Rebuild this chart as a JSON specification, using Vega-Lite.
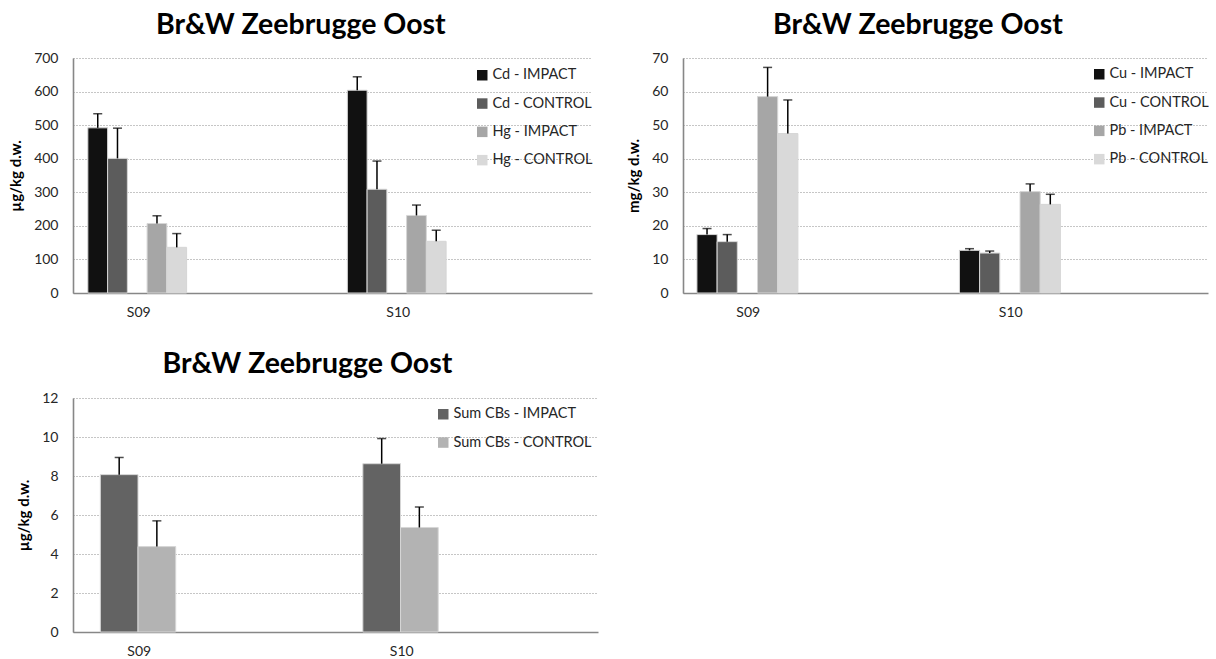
{
  "$schema": "https://vega.github.io/schema/vega-lite/v6.json",
  "background": "white",
  "padding": {"left": 8, "top": 10, "right": 0, "bottom": 0},
  "config": {
    "font": "Lato",
    "view": {"stroke": null},
    "title": {"font": "Lato", "fontSize": 28.5, "fontWeight": "bold", "color": "#000000", "frame": "bounds", "anchor": "middle", "offset": 12},
    "axis": {"labelFont": "Lato", "labelFontSize": 14, "labelColor": "#262626", "ticks": false, "domainColor": "#878787", "domainWidth": 1.6, "titleFont": "Lato", "titleFontSize": 15, "titleFontWeight": "bold", "titleColor": "#000000"},
    "axisY": {"grid": true, "gridColor": "#8c8c8c", "gridDash": [1, 2], "gridWidth": 1, "labelPadding": 15, "titlePadding": 10},
    "axisX": {"grid": false, "labelAngle": 0, "labelPadding": 12, "title": null},
    "legend": {"orient": "none", "title": null, "symbolType": "square", "symbolSize": 110, "symbolStrokeWidth": 0, "symbolOpacity": 1, "labelFont": "Lato", "labelFontSize": 14.5, "labelColor": "#262626", "labelOffset": 3, "rowPadding": 13.3, "padding": 0}
  },
  "resolve": {"scale": {"color": "independent", "xOffset": "independent", "y": "independent", "x": "independent"}, "legend": {"color": "independent"}},
  "spacing": 30,
  "vconcat": [
    {
      "spacing": 33,
      "resolve": {"scale": {"color": "independent", "xOffset": "independent", "y": "independent", "x": "independent"}, "legend": {"color": "independent"}},
      "hconcat": [
        {
          "title": "Br&W Zeebrugge Oost",
          "width": 519,
          "height": 235,
          "data": {"values": [
            {"site": "S09", "series": "Cd - IMPACT", "value": 492, "upper": 534},
            {"site": "S09", "series": "Cd - CONTROL", "value": 401, "upper": 491},
            {"site": "S09", "series": "Hg - IMPACT", "value": 207, "upper": 230},
            {"site": "S09", "series": "Hg - CONTROL", "value": 136, "upper": 177},
            {"site": "S10", "series": "Cd - IMPACT", "value": 604, "upper": 644},
            {"site": "S10", "series": "Cd - CONTROL", "value": 309, "upper": 393},
            {"site": "S10", "series": "Hg - IMPACT", "value": 231, "upper": 262},
            {"site": "S10", "series": "Hg - CONTROL", "value": 154, "upper": 187}
          ]},
          "encoding": {
            "x": {"field": "site", "type": "nominal", "scale": {"paddingInner": 0, "paddingOuter": 0}, "axis": {"labelOffset": -64}},
            "xOffset": {"field": "series", "type": "nominal", "scale": {"domain": ["Cd - IMPACT", "Cd - CONTROL", "_a", "Hg - IMPACT", "Hg - CONTROL", "_b", "_c", "_d", "_e", "_f", "_g", "_h"], "paddingInner": 0, "paddingOuter": 0.57, "align": 0.66}}
          },
          "layer": [
            {
              "mark": {"type": "bar", "stroke": "#d6d6d6", "strokeWidth": 1},
              "encoding": {
                "y": {"field": "value", "type": "quantitative", "scale": {"domain": [0, 700]}, "axis": {"title": "µg/kg d.w.", "values": [0, 100, 200, 300, 400, 500, 600, 700]}},
                "color": {"field": "series", "type": "nominal", "scale": {"domain": ["Cd - IMPACT", "Cd - CONTROL", "Hg - IMPACT", "Hg - CONTROL"], "range": ["#111111", "#5c5c5c", "#a6a6a6", "#d9d9d9"]}, "legend": {"legendX": 402, "legendY": 10}}
              }
            },
            {
              "mark": {"type": "rule", "color": "#000000", "strokeWidth": 1.5},
              "encoding": {"y": {"field": "value", "type": "quantitative", "axis": {"title": "µg/kg d.w.", "values": [0, 100, 200, 300, 400, 500, 600, 700]}}, "y2": {"field": "upper"}}
            },
            {
              "mark": {"type": "tick", "color": "#000000", "thickness": 1.5, "size": 9},
              "encoding": {"y": {"field": "upper", "type": "quantitative", "axis": {"title": "µg/kg d.w.", "values": [0, 100, 200, 300, 400, 500, 600, 700]}}}
            }
          ]
        },
        {
          "title": "Br&W Zeebrugge Oost",
          "width": 525,
          "height": 235,
          "data": {"values": [
            {"site": "S09", "series": "Cu - IMPACT", "value": 17.4, "upper": 19.2},
            {"site": "S09", "series": "Cu - CONTROL", "value": 15.3, "upper": 17.4},
            {"site": "S09", "series": "Pb - IMPACT", "value": 58.5, "upper": 67.2},
            {"site": "S09", "series": "Pb - CONTROL", "value": 47.5, "upper": 57.5},
            {"site": "S10", "series": "Cu - IMPACT", "value": 12.7, "upper": 13.2},
            {"site": "S10", "series": "Cu - CONTROL", "value": 11.9, "upper": 12.5},
            {"site": "S10", "series": "Pb - IMPACT", "value": 30.2, "upper": 32.5},
            {"site": "S10", "series": "Pb - CONTROL", "value": 26.4, "upper": 29.4}
          ]},
          "encoding": {
            "x": {"field": "site", "type": "nominal", "scale": {"paddingInner": 0, "paddingOuter": 0}, "axis": {"labelOffset": -66}},
            "xOffset": {"field": "series", "type": "nominal", "scale": {"domain": ["Cu - IMPACT", "Cu - CONTROL", "_a", "Pb - IMPACT", "Pb - CONTROL", "_b", "_c", "_d", "_e", "_f", "_g", "_h"], "paddingInner": 0, "paddingOuter": 0.5, "align": 0.69}}
          },
          "layer": [
            {
              "mark": {"type": "bar", "stroke": "#d6d6d6", "strokeWidth": 1},
              "encoding": {
                "y": {"field": "value", "type": "quantitative", "scale": {"domain": [0, 70]}, "axis": {"title": "mg/kg d.w.", "values": [0, 10, 20, 30, 40, 50, 60, 70]}},
                "color": {"field": "series", "type": "nominal", "scale": {"domain": ["Cu - IMPACT", "Cu - CONTROL", "Pb - IMPACT", "Pb - CONTROL"], "range": ["#111111", "#5c5c5c", "#a6a6a6", "#d9d9d9"]}, "legend": {"legendX": 409, "legendY": 9}}
              }
            },
            {
              "mark": {"type": "rule", "color": "#000000", "strokeWidth": 1.5},
              "encoding": {"y": {"field": "value", "type": "quantitative", "axis": {"title": "mg/kg d.w.", "values": [0, 10, 20, 30, 40, 50, 60, 70]}}, "y2": {"field": "upper"}}
            },
            {
              "mark": {"type": "tick", "color": "#000000", "thickness": 1.5, "size": 9},
              "encoding": {"y": {"field": "upper", "type": "quantitative", "axis": {"title": "mg/kg d.w.", "values": [0, 10, 20, 30, 40, 50, 60, 70]}}}
            }
          ]
        }
      ]
    },
    {
      "title": {"text": "Br&W Zeebrugge Oost", "offset": 13},
      "width": 525,
      "height": 234,
      "data": {"values": [
        {"site": "S09", "series": "Sum CBs - IMPACT", "value": 8.07, "upper": 8.95},
        {"site": "S09", "series": "Sum CBs - CONTROL", "value": 4.38, "upper": 5.7},
        {"site": "S10", "series": "Sum CBs - IMPACT", "value": 8.63, "upper": 9.92},
        {"site": "S10", "series": "Sum CBs - CONTROL", "value": 5.36, "upper": 6.41}
      ]},
      "encoding": {
        "x": {"field": "site", "type": "nominal", "scale": {"paddingInner": 0, "paddingOuter": 0}, "axis": {"labelOffset": -65}},
        "xOffset": {"field": "series", "type": "nominal", "scale": {"domain": ["Sum CBs - IMPACT", "Sum CBs - CONTROL", "_a", "_b", "_c", "_d"], "paddingInner": 0, "paddingOuter": 0.484, "align": 0.75}}
      },
      "layer": [
        {
          "mark": {"type": "bar", "stroke": "#d6d6d6", "strokeWidth": 1},
          "encoding": {
            "y": {"field": "value", "type": "quantitative", "scale": {"domain": [0, 12]}, "axis": {"title": "µg/kg d.w.", "values": [0, 2, 4, 6, 8, 10, 12]}},
            "color": {"field": "series", "type": "nominal", "scale": {"domain": ["Sum CBs - IMPACT", "Sum CBs - CONTROL"], "range": ["#636363", "#b3b3b3"]}, "legend": {"legendX": 363, "legendY": 9}}
          }
        },
        {
          "mark": {"type": "rule", "color": "#000000", "strokeWidth": 1.5},
          "encoding": {"y": {"field": "value", "type": "quantitative", "axis": {"title": "µg/kg d.w.", "values": [0, 2, 4, 6, 8, 10, 12]}}, "y2": {"field": "upper"}}
        },
        {
          "mark": {"type": "tick", "color": "#000000", "thickness": 1.5, "size": 9},
          "encoding": {"y": {"field": "upper", "type": "quantitative", "axis": {"title": "µg/kg d.w.", "values": [0, 2, 4, 6, 8, 10, 12]}}}
        }
      ]
    }
  ]
}
